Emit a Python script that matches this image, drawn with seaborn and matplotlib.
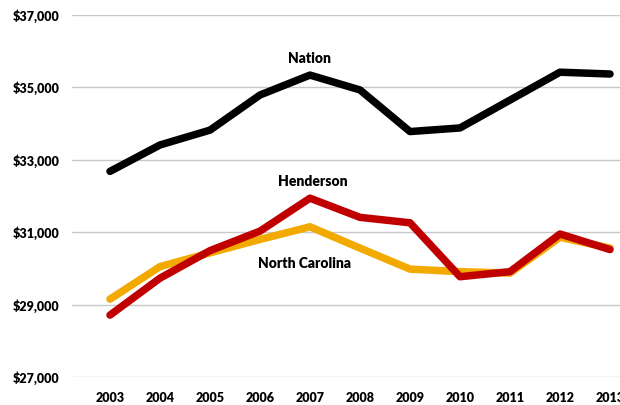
import pandas as pd
import matplotlib.pyplot as plt
import seaborn as sns
from matplotlib.ticker import FuncFormatter

# данные
years = [2003, 2004, 2005, 2006, 2007, 2008, 2009, 2010, 2011, 2012, 2013]
nation = [32680, 33410, 33820, 34790, 35340, 34930, 33780, 33880, 34650, 35420, 35370]
north_carolina = [29150, 30050, 30430, 30800, 31150, 30560, 29980, 29910, 29870, 30860, 30560]
henderson = [28710, 29730, 30490, 31030, 31940, 31410, 31260, 29770, 29910, 30950, 30520]

series_names = ["Nation", "North Carolina", "Henderson"]
colors = {"Nation": "#000000", "North Carolina": "#F2A900", "Henderson": "#C00000"}

df = pd.DataFrame({"Year": years, "Nation": nation,
                   "North Carolina": north_carolina, "Henderson": henderson})
df_long = df.melt(id_vars="Year", value_vars=series_names,
                  var_name="Series", value_name="Wage")

sns.set_style("white")
plt.rcParams["font.family"] = ["Lato", "DejaVu Sans"]
plt.rcParams["text.color"] = "black"
plt.rcParams["xtick.color"] = "black"
plt.rcParams["ytick.color"] = "black"

fig = plt.figure(figsize=(6.2, 4.05), dpi=100)
ax = fig.add_axes([72 / 620, 1 - 377 / 405, 1 - 72 / 620, (377 - 15) / 405])

sns.lineplot(data=df_long, x="Year", y="Wage", hue="Series",
             hue_order=series_names, palette=colors, linewidth=5.4,
             legend=False, ax=ax, solid_capstyle="round")

ax.set_ylim(27000, 37000)
ax.set_xlim(2002.24, 2013.2)
ax.set_yticks([27000, 29000, 31000, 33000, 35000, 37000])
ax.set_xticks(years)
ax.yaxis.set_major_formatter(FuncFormatter(lambda v, p: f"${v:,.0f}"))
ax.grid(axis="y", color="#C8C8C8", linewidth=1)
ax.set_axisbelow(True)
for s in ax.spines.values():
    s.set_visible(False)
ax.tick_params(axis="y", length=0, pad=9)
ax.tick_params(axis="x", length=0, pad=11)
for lab in ax.get_xticklabels() + ax.get_yticklabels():
    lab.set_fontweight("heavy")
    lab.set_fontsize(9)
ax.set_xlabel("")
ax.set_ylabel("")

# подписи линий
ax.text(2007.0, 35810, "Nation", ha="center", va="center", fontsize=10, fontweight="heavy")
ax.text(2007.06, 32390, "Henderson", ha="center", va="center", fontsize=10, fontweight="heavy")
ax.text(2006.9, 30130, "North Carolina", ha="center", va="center", fontsize=10, fontweight="heavy")

plt.savefig("out.png", dpi=100)
